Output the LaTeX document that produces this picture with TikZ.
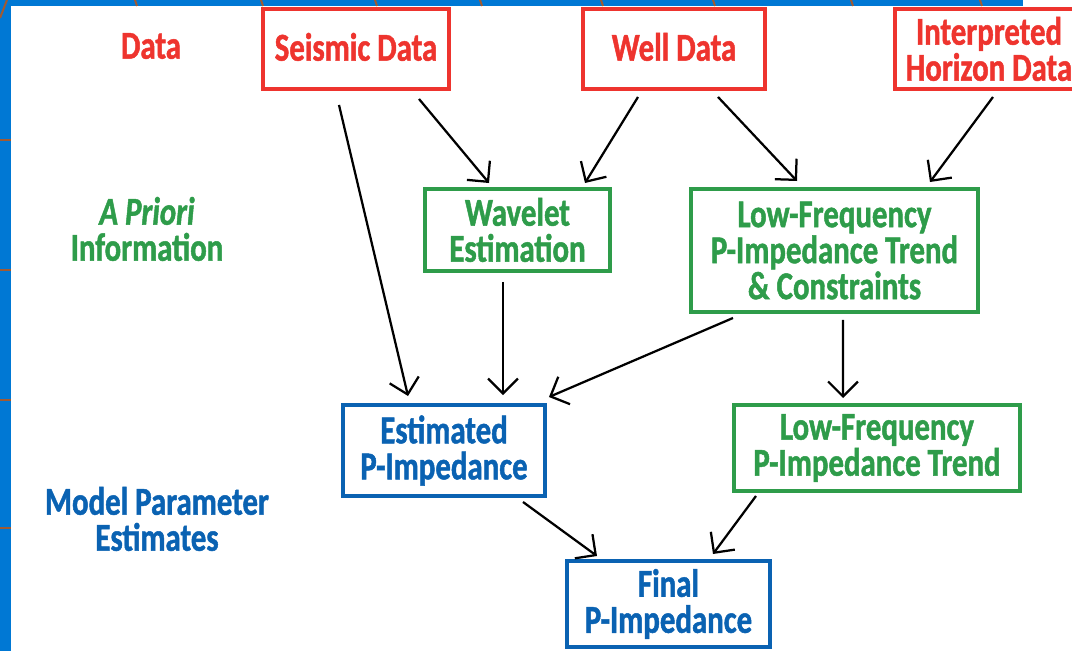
\documentclass[tikz,border=0pt]{standalone}
\usepackage{fontspec}
\setmainfont[FakeStretch=0.78,FakeBold=1.2]{Carlito}
\usetikzlibrary{arrows.meta,calc}
\definecolor{cred}{RGB}{238,52,46}
\definecolor{cgreen}{RGB}{46,156,74}
\definecolor{cblue}{RGB}{10,98,178}
\definecolor{stripblue}{RGB}{0,120,212}
\definecolor{cbrown}{RGB}{160,90,50}
\begin{document}
\begin{tikzpicture}[x=0.02cm,y=-0.02cm,
  txt/.style={align=center,inner sep=0pt,outer sep=0pt,font=\fontsize{22.5}{20.5}\selectfont\bfseries},
  box/.style={txt,draw,line width=0.08cm},
  redbox/.style={box,draw=cred,text=cred},
  greenbox/.style={box,draw=cgreen,text=cgreen},
  bluebox/.style={box,draw=cblue,text=cblue},
  arr/.style={draw=black,line width=0.045cm,-{Straight Barb[length=8.5pt,width=17pt,line width=0.045cm]}},
  tick/.style={draw=cbrown,line width=0.04cm}]
\useasboundingbox (0,0) rectangle (1072,651);
\clip (0,0) rectangle (1072,651);
% frame
\fill[stripblue] (0,0) rectangle (11,651);
\fill[stripblue] (0,0) rectangle (1023,6);
\foreach \yy in {140,270,400,528} \draw[tick] (0,\yy) -- (11,\yy);
\draw[tick] (0,18) -- (7,0);
\foreach \xx in {137,263,377,482,603,715,853,982} \draw[tick] (\xx,6) -- (\xx-2,0);
% labels
\node[txt,text=cred] (ldata) at (151,46) {Data};
\node[txt,text=cgreen] (lprior) at (147,229) {\itshape A Priori\\Information};
\node[txt,text=cblue] (lmodel) at (157,519) {Model Parameter\\Estimates};
% boxes
\node[redbox,minimum width=3.72cm,minimum height=1.6cm] (seis) at (356,49) {\raisebox{2.5pt}{Seismic Data}};
\node[redbox,minimum width=3.64cm,minimum height=1.6cm] (well) at (674,49) {\raisebox{2.5pt}{Well Data}};
\node[redbox,minimum width=3.76cm,minimum height=1.6cm] (hor) at (989,49) {Interpreted\\Horizon Data};
\node[greenbox,minimum width=3.70cm,minimum height=1.64cm] (wav) at (517.5,230) {Wavelet\\Estimation};
\node[greenbox,minimum width=5.74cm,minimum height=2.46cm] (lfc) at (834.5,250.5) {Low-Frequency\\P-Impedance Trend\\\& Constraints};
\node[bluebox,minimum width=4.04cm,minimum height=1.82cm] (est) at (444,450.5) {Estimated\\P-Impedance};
\node[greenbox,minimum width=5.72cm,minimum height=1.72cm] (lft) at (877,448) {Low-Frequency\\P-Impedance Trend};
\node[bluebox,minimum width=4.06cm,minimum height=1.72cm] (fin) at (668.5,604) {Final\\P-Impedance};
% arrows
\draw[arr] ($(seis.south)+(-17,16)$) -- ($(est.north)+(-36,-9)$);
\draw[arr] ($(seis.south)+(63,10)$) -- ($(wav.north)+(-28.5,-6)$);
\draw[arr] ($(well.south)+(-36,8)$) -- ($(wav.north)+(67.5,-6)$);
\draw[arr] ($(well.south)+(44,8)$) -- ($(lfc.north)+(-37.5,-8)$);
\draw[arr] ($(hor.south)+(4,8)$) -- ($(lfc.north)+(95.5,-7)$);
\draw[arr] ($(wav.south)+(-14.5,11)$) -- ($(est.north)+(59,-10)$);
\draw[arr] ($(lfc.south)+(-101.5,6)$) -- ($(est.north east)+(4,-8)$);
\draw[arr] ($(lfc.south)+(8.5,8)$) -- ($(lft.north)+(-34,-7)$);
\draw[arr] ($(est.south)+(79,6)$) -- ($(fin.north)+(-71.5,-5)$);
\draw[arr] ($(lft.south)+(-121,5)$) -- ($(fin.north)+(44.5,-7)$);
\end{tikzpicture}
\end{document}
